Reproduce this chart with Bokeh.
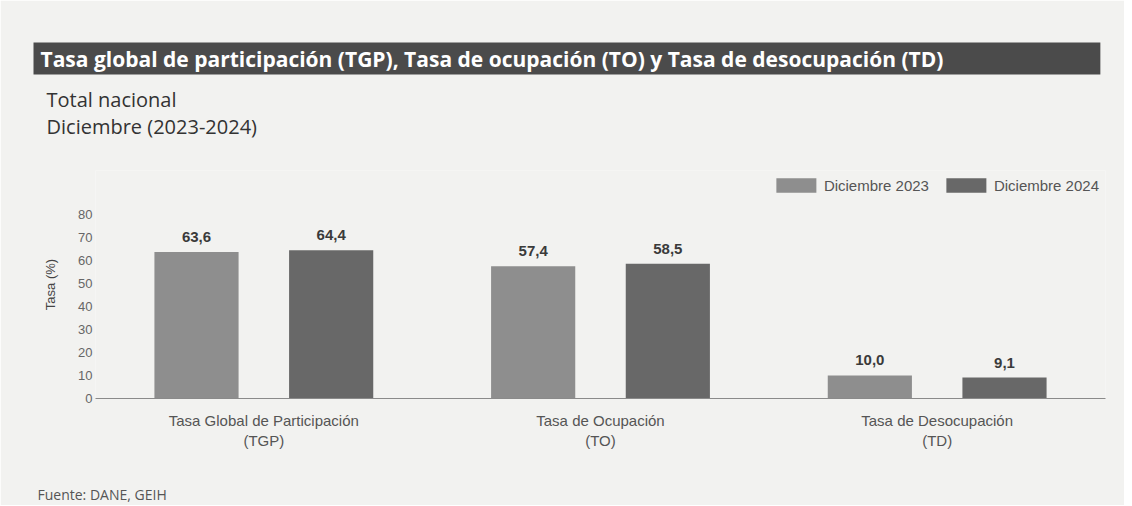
from bokeh.plotting import figure
from bokeh.models import (ColumnDataSource, LabelSet, Title, Legend,
                          LegendItem, FixedTicker)
from bokeh.transform import dodge
from bokeh.core.properties import value
from bokeh.embed import file_html
from bokeh.resources import INLINE

# ---- data ----
category_labels = ["Tasa Global de Participación\n(TGP)",
                   "Tasa de Ocupación\n(TO)",
                   "Tasa de Desocupación\n(TD)"]
series_names = ["Diciembre 2023", "Diciembre 2024"]
values_2023 = [63.6, 57.4, 10.0]
values_2024 = [64.4, 58.5, 9.1]
y_ticks = [0, 10, 20, 30, 40, 50, 60, 70, 80]

title_text = "Tasa global de participación (TGP), Tasa de ocupación (TO) y Tasa de desocupación (TD)"
subtitle_text = "Total nacional\nDiciembre (2023-2024)"
source_text = "Fuente: DANE, GEIH"

BG = "#f2f2f0"
C23 = "#8e8e8e"
C24 = "#686868"
LABEL_FONT = "Liberation Sans"
W, H = 1124, 505
FRAME_L, FRAME_R, FRAME_T, FRAME_B = 95, 1105, 170, 398


def fmt(v):
    return f"{v:.1f}".replace(".", ",")


def spacer(gap):
    return Title(text=" ", text_font_size="1px", standoff=gap, text_color=BG)


src = ColumnDataSource(dict(
    cat=category_labels,
    v23=values_2023,
    v24=values_2024,
    l23=[fmt(v) for v in values_2023],
    l24=[fmt(v) for v in values_2024],
))

p = figure(x_range=category_labels, y_range=(0, 99), width=W, height=H,
           output_backend="svg", toolbar_location=None,
           min_border_left=FRAME_L, min_border_right=W - FRAME_R,
           min_border_top=FRAME_T, min_border_bottom=H - FRAME_B)
p.background_fill_color = BG
p.border_fill_color = BG
p.outline_line_color = None
p.grid.grid_line_color = None
p.x_range.range_padding = 0

r23 = p.vbar(x=dodge("cat", -0.2, range=p.x_range), top="v23", width=0.25,
             source=src, fill_color=C23, line_color=None)
r24 = p.vbar(x=dodge("cat", 0.2, range=p.x_range), top="v24", width=0.25,
             source=src, fill_color=C24, line_color=None)

for col, vcol, off in (("l23", "v23", -0.2), ("l24", "v24", 0.2)):
    p.add_layout(LabelSet(x=dodge("cat", off, range=p.x_range), y=vcol, text=col,
                          source=src, text_align="center", text_baseline="bottom",
                          y_offset=10, text_font=value(LABEL_FONT),
                          text_font_size="15px", text_font_style="bold",
                          text_color="#3a3a3a"))

# axes
p.yaxis.ticker = FixedTicker(ticks=y_ticks)
p.yaxis.axis_line_color = None
p.yaxis.major_tick_line_color = None
p.yaxis.minor_tick_line_color = None
p.yaxis.major_tick_out = 0
p.yaxis.minor_tick_out = 0
p.yaxis.major_label_text_font = LABEL_FONT
p.yaxis.major_label_text_font_size = "13px"
p.yaxis.major_label_text_color = "#666666"
p.yaxis.major_label_standoff = 3
p.yaxis.axis_label = "Tasa (%)"
p.yaxis.axis_label_text_font = LABEL_FONT
p.yaxis.axis_label_text_font_size = "13px"
p.yaxis.axis_label_text_font_style = "normal"
p.yaxis.axis_label_text_color = "#444444"
p.yaxis.axis_label_standoff = 17

p.xaxis.axis_line_color = "#8a8a8a"
p.xaxis.axis_line_width = 1.2
p.xaxis.major_tick_line_color = None
p.xaxis.minor_tick_line_color = None
p.xaxis.major_tick_out = 0
p.xaxis.minor_tick_out = 0
p.xaxis.major_label_text_font = LABEL_FONT
p.xaxis.major_label_text_font_size = "15px"
p.xaxis.major_label_text_color = "#555555"
p.xaxis.major_label_standoff = 13

# legend inside the frame, top right
legend = Legend(items=[LegendItem(label=series_names[0], renderers=[r23]),
                       LegendItem(label=series_names[1], renderers=[r24])],
                orientation="horizontal", location="top_right",
                background_fill_alpha=0, border_line_color=None,
                glyph_width=50, glyph_height=18, spacing=12,
                label_text_font=LABEL_FONT, label_text_font_size="15px",
                label_text_color="#555555", margin=6, padding=6,
                label_standoff=3)
p.add_layout(legend)

# header (panels listed from the frame outwards)
p.add_layout(spacer(26), "above")
p.add_layout(Title(text=subtitle_text, align="left", offset=46 - FRAME_L, standoff=4,
                   text_font="Open Sans", text_font_size="20px",
                   text_font_style="normal", text_color="#333333"), "above")

head_kw = dict(text=title_text, align="left", offset=33 - FRAME_L, standoff=14,
               text_font="Open Sans", text_font_size="21px",
               text_font_style="bold", text_color="white",
               background_fill_color="#4b4b4b", background_fill_alpha=1.0)
head = None
for pad in (dict(left=7, right=157, top=2, bottom=2), (2, 157, 2, 7), 3):
    try:
        head = Title(padding=pad, **head_kw)
        break
    except Exception:
        head = None
if head is None:
    head = Title(**head_kw)
p.add_layout(head, "above")

# footer (below the x axis)
p.add_layout(spacer(27), "below")
p.add_layout(Title(text=source_text, align="left", offset=37 - FRAME_L, standoff=2,
                   text_font="Open Sans", text_font_size="14px",
                   text_font_style="normal", text_color="#555555"), "below")

open("out.html", "w").write(file_html(p, INLINE))
